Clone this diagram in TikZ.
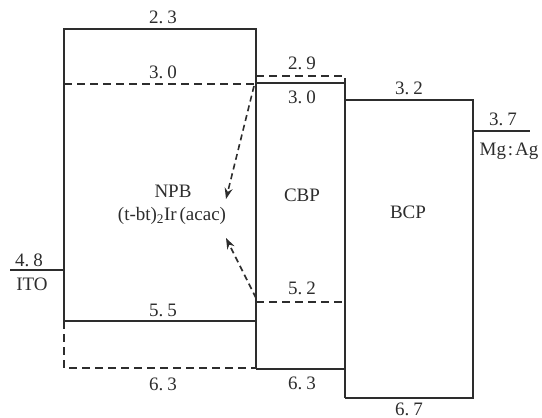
\documentclass[tikz,border=0pt]{standalone}
\usepackage{fontspec}
\setmainfont{Liberation Serif}
\usetikzlibrary{arrows.meta}
\definecolor{levelgray}{RGB}{45,45,45}
\tikzset{
  level/.style={draw=levelgray, line width=1.5pt},
  dlevel/.style={level, dash pattern=on 8pt off 5pt},
  val/.style={font=\fontsize{19}{21}\selectfont, inner sep=1pt, text=levelgray},
  mat/.style={font=\fontsize{19}{21}\selectfont, align=center, inner sep=1pt, text=levelgray},
  transfer/.style={-{Stealth[length=11pt, width=8pt]}, draw=levelgray,
    line width=1.6pt, dash pattern=on 6pt off 4pt}
}

\begin{document}
\begin{tikzpicture}[x=1pt, y=-1pt]
  \useasboundingbox (0,0) rectangle (542,418);
  % NPB
  \draw[level] (64,321) -- (64,29) -- (256,29) -- (256,369);
  \draw[dlevel] (64,84) -- (256,84);
  \draw[level] (64,321) -- (256,321);
  \draw[dlevel] (64,321) -- (64,368) -- (256,368);
  % CBP
  \draw[dlevel] (256,76) -- (345,76) -- (345,83);
  \draw[level] (256,83) -- (345,83) -- (345,398);
  \draw[dlevel] (256,302) -- (345,302);
  \draw[level] (256,369) -- (345,369);
  % BCP
  \draw[level] (345,100) -- (473,100) -- (473,398) -- (345,398);
  % electrodes
  \draw[level] (10,270) -- (64,270);
  \draw[level] (473,131) -- (530,131);

  % values
  \node[val] (v23)  at (163,17)  {2.\hspace{0.2em}3};
  \node[val] (v30a) at (163,72)  {3.\hspace{0.2em}0};
  \node[val] (v55)  at (163,310) {5.\hspace{0.2em}5};
  \node[val] (v63a) at (163,384) {6.\hspace{0.2em}3};
  \node[val] (v29)  at (302,63)  {2.\hspace{0.2em}9};
  \node[val] (v30b) at (302,97)  {3.\hspace{0.2em}0};
  \node[val] (v52)  at (302,288) {5.\hspace{0.2em}2};
  \node[val] (v63b) at (302,383) {6.\hspace{0.2em}3};
  \node[val] (v32)  at (409,88)  {3.\hspace{0.2em}2};
  \node[val] (v67)  at (409,409) {6.\hspace{0.2em}7};
  \node[val] (v37)  at (503,119) {3.\hspace{0.2em}7};
  \node[val] (v48)  at (29,260)  {4.\hspace{0.2em}8};

  % materials
  \node[mat] (npb)  at (173,191) {NPB};
  \node[mat] (dopant) at (172,216) {(t-bt)\textsubscript{2}Ir\hspace{0.15em}(acac)};
  \node[mat] (cbp)  at (302,195) {CBP};
  \node[mat] (bcp)  at (408,212) {BCP};
  \node[mat] (ito)  at (32,284)  {ITO};
  \node[mat] (mgag) at (509,151) {Mg\hspace{0.1em}:\hspace{0.1em}Ag};

  % energy transfer
  \coordinate (npbtop) at (254,86);
  \coordinate (cbpbot) at (256,298);
  \coordinate (tipdown) at (226,199);
  \coordinate (tipup) at (226,238);
  \draw[transfer] (npbtop) -- (tipdown);
  \draw[transfer] (cbpbot) -- (tipup);
\end{tikzpicture}
\end{document}
